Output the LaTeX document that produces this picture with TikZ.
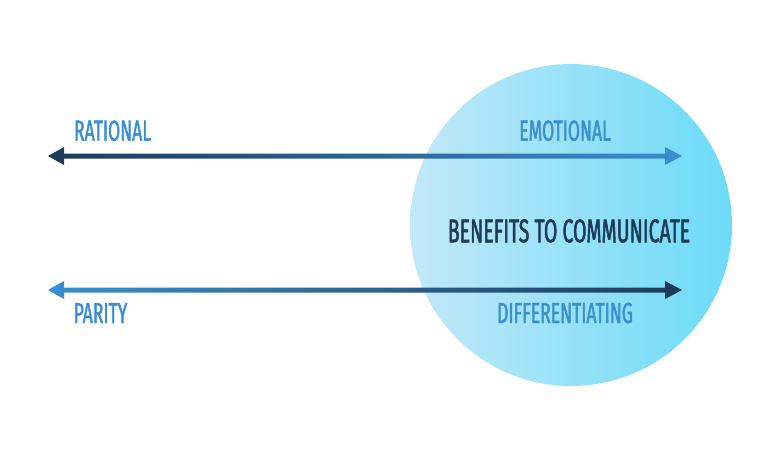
\documentclass[tikz,border=0pt]{standalone}
\usepackage{fontspec}
\newfontfamily\lblfont{Fira Sans}[FakeStretch=0.605, FakeBold=1.5]
\newfontfamily\titlefont{Fira Sans}[FakeStretch=0.59, FakeBold=1.5]
\definecolor{navy}{HTML}{1D3A56}
\definecolor{midblue}{HTML}{3A8FD0}
\definecolor{circL}{HTML}{C2E8F8}
\definecolor{circR}{HTML}{6CDBF8}
\tikzset{
  lbl/.style={text=midblue, font=\lblfont\fontsize{29}{29}\selectfont, inner sep=0pt, anchor=base},
  title/.style={text=navy, font=\titlefont\fontsize{33}{33}\selectfont, inner sep=0pt, anchor=base},
}
\begin{document}
\begin{tikzpicture}[x=1pt,y=-1pt]
\useasboundingbox (0,0) rectangle (763,450);
% circle
\shade[left color=circL, right color=circR] (571,225) circle (161);
% arrow 1 (dark left -> blue right)
\shade[left color=navy, right color=midblue]
  (48,156) -- (64,147) -- (64,153.5) -- (665,153.5) -- (665,147) -- (682,156)
  -- (665,165) -- (665,158.5) -- (64,158.5) -- (64,165) -- cycle;
% arrow 2 (blue left -> dark right)
\shade[left color=midblue, right color=navy]
  (48,290) -- (64,281) -- (64,287.5) -- (665,287.5) -- (665,281) -- (682,290)
  -- (665,299) -- (665,292.5) -- (64,292.5) -- (64,299) -- cycle;
% labels
\node[lbl] (rat) at (112.5,140.7) {RATIONAL};
\node[lbl] (emo) at (565,140.7) {EMOTIONAL};
\node[lbl] (par) at (100.5,323) {PARITY};
\node[lbl] (dif) at (565,323) {DIFFERENTIATING};
\node[title] (ben) at (569,242.3) {BENEFITS TO COMMUNICATE};
\end{tikzpicture}
\end{document}
